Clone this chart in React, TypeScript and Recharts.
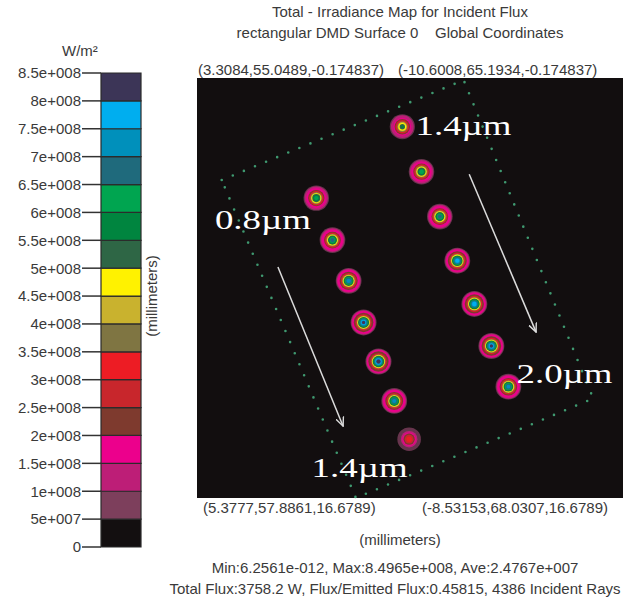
import { BarChart, Bar, XAxis, YAxis, ScatterChart, Scatter, CartesianGrid } from 'recharts'

// colour scale, W/m², one band every 5e7
const scaleTicks = [
  0, 5e7, 1e8, 1.5e8, 2e8, 2.5e8, 3e8, 3.5e8, 4e8, 4.5e8, 5e8, 5.5e8, 6e8, 6.5e8, 7e8, 7.5e8, 8e8, 8.5e8,
]
const bandColors = [
  '#130f10', '#7d3f5c', '#bd1e77', '#ec008c', '#7e3a2e', '#c8262c', '#ed1c24', '#7f7542', '#c9b22e',
  '#fff200', '#2e6645', '#00853f', '#00a550', '#1f6a7c', '#0090bb', '#00aeef', '#3c3557',
]

// spot centres on the DMD surface (local units, 0..10) and their peak irradiance
const leftSpots = [
  { x: 2.8, y: 7.14, peak: 6.3e8 },
  { x: 3.18, y: 6.14, peak: 6.8e8 },
  { x: 3.56, y: 5.17, peak: 7.4e8 },
  { x: 3.91, y: 4.18, peak: 8.1e8 },
  { x: 4.26, y: 3.25, peak: 8.45e8 },
  { x: 4.63, y: 2.31, peak: 7.3e8 },
  { x: 4.98, y: 1.4, peak: 3.3e8 },
]
const rightSpots = [
  { x: 4.82, y: 8.84, peak: 5.5e8 },
  { x: 5.27, y: 7.77, peak: 6.4e8 },
  { x: 5.7, y: 6.7, peak: 6.8e8 },
  { x: 6.11, y: 5.65, peak: 7.8e8 },
  { x: 6.51, y: 4.62, peak: 7.9e8 },
  { x: 6.91, y: 3.62, peak: 8.1e8 },
  { x: 7.31, y: 2.65, peak: 7.2e8 },
]

// dotted outline of the mirror array
const frame = [
  { x: 0.58, y: 7.57 },
  { x: 6.26, y: 9.95 },
  { x: 9.3, y: 2.37 },
  { x: 3.73, y: 0.0 },
  { x: 0.58, y: 7.57 },
]

const leftArrow = [
  { x: 1.9, y: 5.5 },
  { x: 3.43, y: 1.71 },
]
const rightArrow = [
  { x: 6.39, y: 7.71 },
  { x: 7.96, y: 3.95 },
]

const notes = [
  { x: 5.13, y: 8.64, text: '1.4µm' },
  { x: 0.42, y: 6.4, text: '0.8µm' },
  { x: 7.5, y: 2.74, text: '2.0µm' },
  { x: 2.69, y: 0.49, text: '1.4µm' },
]

const STEP = 5e7
const PROFILE_R = [0, 1.7, 4, 5.5, 7, 8.4, 11, 12.2, 13, 13.5]
const PROFILE_F = [1, 0.99, 0.8, 0.62, 0.43, 0.29, 0.21, 0.12, 0.06, 0]
const TEXT = '#3a3a3a'
const SANS = '"Liberation Sans", Arial, sans-serif'

const fmtExp = (v: number) => {
  if (v === 0) return '0'
  const e = Math.floor(Math.log10(v))
  const m = +(v / Math.pow(10, e)).toFixed(2)
  return `${m}e+${String(e).padStart(3, '0')}`
}

const radiusAt = (f: number) => {
  for (let i = 1; i < PROFILE_F.length; i++) {
    if (f >= PROFILE_F[i]) {
      const t = (PROFILE_F[i - 1] - f) / (PROFILE_F[i - 1] - PROFILE_F[i])
      return PROFILE_R[i - 1] + t * (PROFILE_R[i] - PROFILE_R[i - 1])
    }
  }
  return PROFILE_R[PROFILE_R.length - 1]
}

const scaleRow: Record<string, number | string> = { name: 'scale' }
bandColors.forEach((_, i) => (scaleRow[`b${i}`] = scaleTicks[i + 1] - scaleTicks[i]))

const Spot = (p: any) => {
  const { cx, cy, payload } = p
  const top = Math.floor(payload.peak / STEP)
  const rings = []
  for (let k = 1; k <= top; k++) {
    const r = radiusAt((k * STEP) / payload.peak)
    rings.push(
      <circle key={k} cx={cx} cy={cy} r={Math.max(r, 1.3)} fill={bandColors[k]} opacity={k === 1 ? 0.8 : 1} />,
    )
  }
  return <g>{rings}</g>
}

const Note = (p: any) => (
  <text
    x={p.cx}
    y={p.cy}
    fill="#ffffff"
    fontFamily='"Liberation Serif", "Times New Roman", serif'
    fontSize={28}
    textLength={96}
    lengthAdjust="spacingAndGlyphs"
  >
    {p.payload.text}
  </text>
)

const Nothing = () => <g />

const label = (text: string, left: number, top: number, extra: any = {}) => (
  <div
    style={{
      position: 'absolute',
      left,
      top,
      fontFamily: SANS,
      fontSize: 15,
      lineHeight: '18px',
      color: TEXT,
      whiteSpace: 'pre',
      ...extra,
    }}
  >
    {text}
  </div>
)

export default function App() {
  return (
    <div style={{ position: 'absolute', left: 0, top: 0, width: 644, height: 602, background: '#fff' }}>
      <div style={{ position: 'absolute', left: 0, top: 0 }}>
        <BarChart
          width={160}
          height={602}
          data={[scaleRow]}
          margin={{ top: 73, right: 19, bottom: 55, left: 0 }}
          barCategoryGap={0}
        >
          <XAxis dataKey="name" hide />
          <YAxis
            type="number"
            width={101}
            domain={[0, 8.5e8]}
            ticks={scaleTicks}
            interval={0}
            tickFormatter={fmtExp}
            axisLine={false}
            tickSize={19}
            tickMargin={1}
            tickLine={{ stroke: '#333', strokeWidth: 1.5 }}
            tick={{ fill: TEXT, fontSize: 15, fontFamily: SANS }}
          />
          {bandColors.map((c, i) => (
            <Bar
              key={i}
              dataKey={`b${i}`}
              stackId="scale"
              fill={c}
              stroke="#2b2b2b"
              strokeWidth={1.2}
              isAnimationActive={false}
            />
          ))}
        </BarChart>
      </div>

      <div style={{ position: 'absolute', left: 180, top: 0 }}>
        <ScatterChart width={464} height={602} margin={{ top: 78, right: 21, bottom: 104, left: 17 }}>
          <defs>
            <marker
              id="arrowHead"
              viewBox="0 0 10 10"
              refX="9"
              refY="5"
              markerWidth="10"
              markerHeight="10"
              markerUnits="userSpaceOnUse"
              orient="auto"
            >
              <path d="M0,1 L9,5 L0,9" fill="none" stroke="#dcdcdc" strokeWidth="1.4" />
            </marker>
          </defs>
          <CartesianGrid fill="#120e0f" horizontal={false} vertical={false} stroke="#8a8a8a" />
          <XAxis type="number" dataKey="x" domain={[0, 10]} hide />
          <YAxis type="number" dataKey="y" domain={[0, 10]} hide />
          <Scatter
            data={frame}
            shape={Nothing}
            line={{ stroke: '#3f9970', strokeWidth: 2.6, strokeDasharray: '0 12', strokeLinecap: 'round' }}
            isAnimationActive={false}
          />
          <Scatter
            data={leftArrow}
            shape={Nothing}
            line={{ stroke: '#dcdcdc', strokeWidth: 1.5, markerEnd: 'url(#arrowHead)' }}
            isAnimationActive={false}
          />
          <Scatter
            data={rightArrow}
            shape={Nothing}
            line={{ stroke: '#dcdcdc', strokeWidth: 1.5, markerEnd: 'url(#arrowHead)' }}
            isAnimationActive={false}
          />
          <Scatter data={leftSpots} shape={Spot} isAnimationActive={false} />
          <Scatter data={rightSpots} shape={Spot} isAnimationActive={false} />
          <Scatter data={notes} shape={Note} isAnimationActive={false} />
        </ScatterChart>
      </div>

      {label('W/m²', 62, 42)}
      <div
        style={{
          position: 'absolute',
          left: 152 - 60,
          top: 296 - 9,
          width: 120,
          textAlign: 'center',
          transform: 'rotate(-90deg)',
          fontFamily: SANS,
          fontSize: 15,
          lineHeight: '18px',
          color: TEXT,
        }}
      >
        (millimeters)
      </div>

      {label('Total - Irradiance Map for Incident Flux', 180, 3, { width: 440, textAlign: 'center' })}
      {label('rectangular DMD Surface 0    Global Coordinates', 180, 24, { width: 440, textAlign: 'center' })}

      {label('(3.3084,55.0489,-0.174837)', 198, 61)}
      {label('(-10.6008,65.1934,-0.174837)', 398, 61)}
      {label('(5.3777,57.8861,16.6789)', 203, 499)}
      {label('(-8.53153,68.0307,16.6789)', 422, 499)}

      {label('(millimeters)', 180, 531, { width: 440, textAlign: 'center' })}
      {label('Min:6.2561e-012, Max:8.4965e+008, Ave:2.4767e+007', 150, 559, { width: 490, textAlign: 'center' })}
      {label('Total Flux:3758.2 W, Flux/Emitted Flux:0.45815, 4386 Incident Rays', 150, 580, {
        width: 490,
        textAlign: 'center',
      })}
    </div>
  )
}
